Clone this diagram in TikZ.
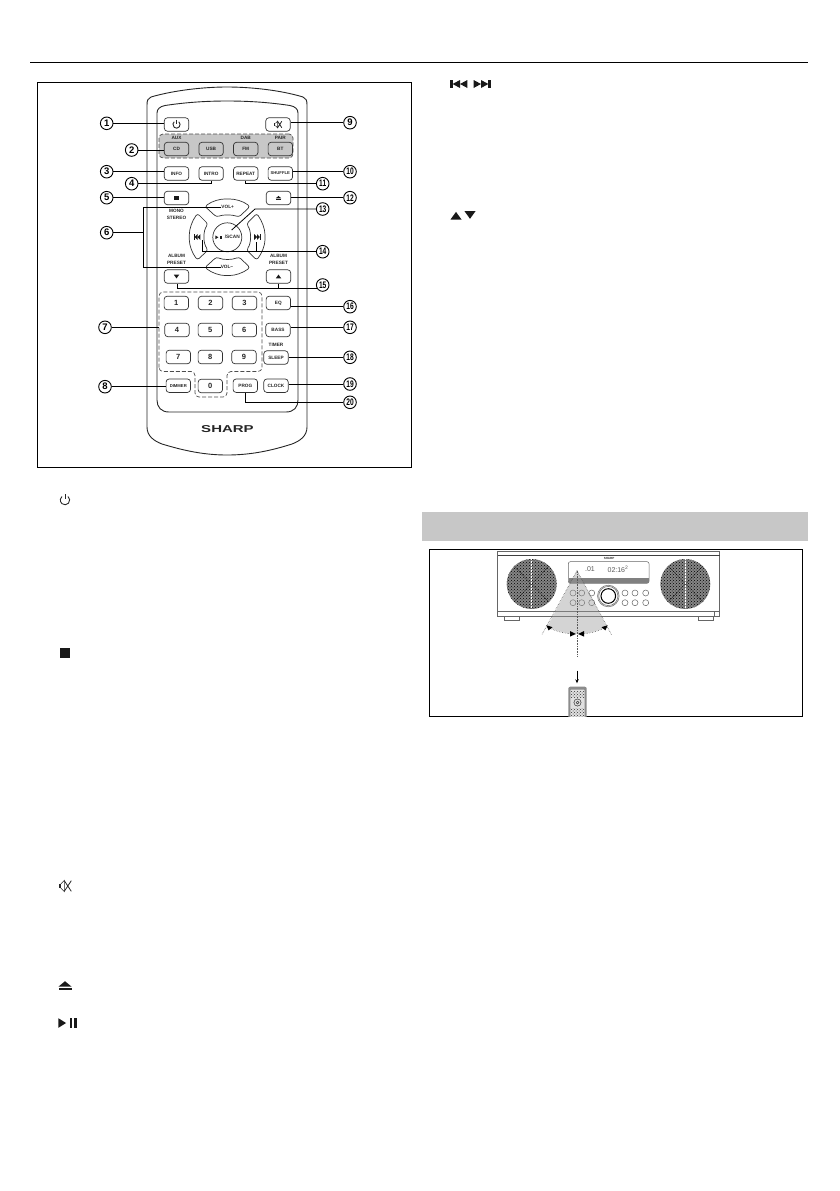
\documentclass[tikz,border=0pt]{standalone}
\usepackage{fontspec}
\setmainfont{Liberation Sans}
\usepackage{tikz}
\usetikzlibrary{positioning,arrows.meta,patterns}

\newcommand{\btnfont}{\fontsize{4.7}{5.5}\selectfont\bfseries}
\newcommand{\IconPower}[2]{\begin{scope}[shift={(#1)},x=1pt,y=1pt,scale=#2]
  \draw[line width=0.9pt,black!85] (0,4.6) -- (0,0.4);
  \draw[line width=0.9pt,black!85] (2.3,2.7) arc[start angle=50,end angle=-230,radius=3.6];
\end{scope}}
\newcommand{\IconMute}[2]{\begin{scope}[shift={(#1)},x=1pt,y=1pt,scale=#2]
  \fill[black!85] (-4.5,-1.5) rectangle (-3,1.5);
  \draw[line width=0.6pt,black!85] (-3,1.5) -- (-0.5,4) -- (-0.5,-4) -- (-3,-1.5);
  \draw[line width=0.8pt,black!85] (-0.5,3.8) -- (4.5,-3.8) (-0.5,-3.8) -- (4.5,3.8);
\end{scope}}
\newcommand{\IconStop}[2]{\begin{scope}[shift={(#1)},x=1pt,y=1pt,scale=#2]
  \fill[black!90] (-1,-1) rectangle (1,1);
\end{scope}}
\newcommand{\IconEject}[2]{\begin{scope}[shift={(#1)},x=1pt,y=1pt,scale=#2]
  \fill[black!90] (-6.5,-0.6) -- (6.5,-0.6) -- (0,4.8) -- cycle;
  \fill[black!90] (-6.5,-2.2) rectangle (6.5,-3.6);
\end{scope}}
\newcommand{\IconTri}[3]{\begin{scope}[shift={(#1)},x=1pt,y=1pt,scale=#2,yscale=#3]
  \fill[black!90] (-5.5,-3.8) -- (5.5,-3.8) -- (0,3.8) -- cycle;
\end{scope}}
\newcommand{\IconSkip}[3]{\begin{scope}[shift={(#1)},x=1pt,y=1pt,scale=#2,xscale=#3]
  \fill[black!90] (-4,-4) -- (0,0) -- (-4,4) -- cycle;
  \fill[black!90] (0,-4) -- (4,0) -- (0,4) -- cycle;
  \fill[black!90] (4,-4) rectangle (5.2,4);
\end{scope}}
\newcommand{\IconPlay}[2]{\begin{scope}[shift={(#1)},x=1pt,y=1pt,scale=#2]
  \fill[black!90] (-9,-5) -- (-1,0) -- (-9,5) -- cycle;
  \fill[black!90] (3,-5) rectangle (5.6,5);
  \fill[black!90] (7.4,-5) rectangle (10,5);
\end{scope}}

\begin{document}
\begin{tikzpicture}[
  x=1pt, y=-1pt,
  every node/.style={font=\btnfont, inner sep=0pt, text=black!85},
  btn/.style={draw=black!80, line width=0.7pt, rounded corners=3pt,
              minimum width=24.4pt, minimum height=13.4pt},
  numbtn/.style={btn, font=\fontsize{7.5}{8}\selectfont\bfseries},
  callout/.style={circle, draw=black, line width=0.9pt, minimum size=12.6pt,
                  font=\fontsize{9.5}{10}\selectfont\bfseries, text=black},
  lead/.style={line width=0.8pt, black},
  frame/.style={draw=black, line width=0.9pt},
  dashbox/.style={dash pattern=on 4pt off 2pt, draw=black!70, line width=0.7pt, rounded corners=4pt},
  pad/.style={draw=black!80, line width=0.7pt, rounded corners=2.5pt},
  beam/.style={densely dotted, black!65, line width=0.6pt},
  hifiline/.style={draw=black!60, line width=0.5pt}
]
  \path[use as bounding box] (0,0) rectangle (839,1191);

  % page furniture
  \draw[line width=1pt, black] (30,62) -- (808,62);
  \draw[frame] (37,82) rectangle (411,467);
  \fill[black!22] (422,512) rectangle (808,541);
  \draw[frame] (429,549) rectangle (802,716);

  % remote body
  \draw[line width=0.9pt, black!85] (147,427) -- (147,105)
    .. controls (147,100) and (148,98.5) .. (151,97)
    .. controls (175,90) and (205,87) .. (227,87)
    .. controls (250,87) and (280,90) .. (303,97)
    .. controls (306,98.5) and (307,100) .. (307,105)
    -- (307,427)
    .. controls (307,436) and (300,441) .. (292,444)
    .. controls (270,451) and (250,455) .. (227,455)
    .. controls (205,455) and (185,451) .. (162,444)
    .. controls (154,441) and (147,436) .. (147,427) -- cycle;
  \draw[line width=0.9pt, black!85] (157,400) -- (157,113)
    .. controls (157,109) and (160,106.5) .. (165,105.5)
    .. controls (185,102.5) and (205,101) .. (227,101)
    .. controls (250,101) and (270,102.5) .. (290,105.5)
    .. controls (295,106.5) and (298,109) .. (298,113)
    -- (298,400)
    .. controls (298,407) and (294,412) .. (286,412)
    -- (169,412)
    .. controls (161,412) and (157,407) .. (157,400) -- cycle;

  % dashed groups
  \node[dashbox, fill=black!22, minimum width=134pt, minimum height=24pt] (panel) at (226,146) {};
  \draw[dashbox] (159,371.5) -- (159,292) -- (262,292) -- (262,371.5) -- (227,371.5)
    -- (227,397) -- (195,397) -- (195,371.5) -- cycle;

  % top buttons
  \node[btn] (power) at (176.5,124.5) {};
  \node[btn] (mute) at (278,124.5) {};
  \IconPower{power}{1}
  \IconMute{mute}{0.85}

  \node[btn] (cd) at (176.5,149) {CD};
  \node[btn, right=9.5pt of cd] (usb) {USB};
  \node[btn, right=9.5pt of usb] (fm) {FM};
  \node[btn, right=9.5pt of fm] (bt) {BT};
  \node[above=1.8pt of cd] (aux) {AUX};
  \node[above=1.8pt of fm] (dab) {DAB};
  \node[above=1.8pt of bt] (pair) {PAIR};

  \node[btn] (info) at (176.5,173.5) {INFO};
  \node[btn, right=9.5pt of info] (intro) {INTRO};
  \node[btn, right=9.5pt of intro] (repeat) {REPEAT};
  \node[btn, right=9.5pt of repeat] (shuffle) {\fontsize{4.2}{5}\selectfont SHUFFLE};

  \node[btn] (stopbtn) at (176.5,198) {};
  \node[btn] (eject) at (278.5,198) {};
  \IconStop{stopbtn}{2.3}
  \IconEject{eject}{0.42}
  \node (mono) at (176.5,211) {MONO};
  \node (stereo) at (176.5,218) {STEREO};

  % direction pad
  \node[circle, draw=black!80, line width=0.7pt, minimum size=29pt] (playscan) at (227.3,237.3)
    {\hspace{10pt}\fontsize{4.8}{5}\selectfont /SCAN};
  \IconPlay{[xshift=-8.6pt]playscan.center}{0.36}
  \draw[pad] (205,206.5) .. controls (212,201) and (220,199) .. (227.3,199)
    .. controls (235,199) and (243,201) .. (250,206.5) -- (239,217)
    .. controls (232,214.5) and (223,214.5) .. (216.5,217) -- cycle;
  \draw[pad] (205,267.5) .. controls (212,273) and (220,275.5) .. (227.3,275.5)
    .. controls (235,275.5) and (243,273) .. (250,267.5) -- (239,257)
    .. controls (232,260) and (223,260) .. (216.5,257) -- cycle;
  \draw[pad] (197.5,213.5) .. controls (192,221) and (189.3,229) .. (189.3,237.3)
    .. controls (189.3,245) and (192,253) .. (197.5,260) -- (208,250)
    .. controls (203,243) and (203,231) .. (208,224) -- cycle;
  \draw[pad] (256.7,213.5) .. controls (262,221) and (265,229) .. (265,237.3)
    .. controls (265,245) and (262,253) .. (256.7,260) -- (246.5,250)
    .. controls (251.5,243) and (251.5,231) .. (246.5,224) -- cycle;
  \node (volup) at (227.7,207.3) {VOL+};
  \node (voldown) at (227,267.3) {VOL−};
  \coordinate (prevbtn) at (197.5,237);
  \coordinate (nextbtn) at (257,237);
  \IconSkip{prevbtn}{0.7}{-1}
  \IconSkip{nextbtn}{0.7}{1}

  % album / preset
  \node (albuml) at (176.5,256) {ALBUM};
  \node (presetl) at (176.5,263) {PRESET};
  \node (albumr) at (278.5,256) {ALBUM};
  \node (presetr) at (278.5,263) {PRESET};
  \node[btn] (downbtn) at (176.5,276.5) {};
  \node[btn] (upbtn) at (278.5,276.5) {};
  \IconTri{downbtn}{0.5}{-1}
  \IconTri{upbtn}{0.5}{1}

  % number keys
  \node[numbtn] (one) at (176.3,303) {1};
  \node[numbtn] (two) at (210.5,303) {2};
  \node[numbtn] (three) at (244.5,303) {3};
  \node[btn] (eq) at (278.3,303) {EQ};
  \node[numbtn] (four) at (177,330) {4};
  \node[numbtn] (five) at (210.3,330) {5};
  \node[numbtn] (six) at (244.3,330) {6};
  \node[btn] (bass) at (278,330) {BASS};
  \node[numbtn] (seven) at (178.3,357) {7};
  \node[numbtn] (eight) at (210.3,357) {8};
  \node[numbtn] (nine) at (244,357) {9};
  \node[btn] (sleep) at (276,357.5) {SLEEP};
  \node (timer) at (276,345) {TIMER};
  \node[btn] (dimmer) at (178.3,385.7) {\fontsize{4.2}{5}\selectfont DIMMER};
  \node[numbtn] (zero) at (210.3,386) {0};
  \node[btn] (prog) at (245.3,385.7) {PROG};
  \node[btn] (clock) at (276,385.7) {CLOCK};

  \node[font=\fontsize{10}{11}\selectfont\bfseries] (brand) at (227.5,429.3) {\scalebox{1.5}[1]{SHARP}};

  % callouts
  \node[callout] (c1) at (106.7,123.3) {1};
  \node[callout] (c2) at (131.7,150) {2};
  \node[callout] (c3) at (106.7,171.7) {3};
  \node[callout] (c4) at (131.7,183.7) {4};
  \node[callout] (c5) at (106.7,197.7) {5};
  \node[callout] (c6) at (106.7,232.7) {6};
  \node[callout] (c7) at (105,327.3) {7};
  \node[callout] (c8) at (105,386.7) {8};
  \node[callout] (c9) at (350,122.7) {9};
  \node[callout] (c10) at (350,171.7) {\scalebox{0.7}[1]{10}};
  \node[callout] (c11) at (322.7,183.7) {\scalebox{0.7}[1]{11}};
  \node[callout] (c12) at (350,197.7) {\scalebox{0.7}[1]{12}};
  \node[callout] (c13) at (322.7,209) {\scalebox{0.7}[1]{13}};
  \node[callout] (c14) at (322.7,251.7) {\scalebox{0.7}[1]{14}};
  \node[callout] (c15) at (322.7,285) {\scalebox{0.7}[1]{15}};
  \node[callout] (c16) at (350,306.7) {\scalebox{0.7}[1]{16}};
  \node[callout] (c17) at (350,327.3) {\scalebox{0.7}[1]{17}};
  \node[callout] (c18) at (350,357.3) {\scalebox{0.7}[1]{18}};
  \node[callout] (c19) at (350,384) {\scalebox{0.7}[1]{19}};
  \node[callout] (c20) at (350,402.3) {\scalebox{0.7}[1]{20}};

  % connectors
  \draw[lead] (c1) -- (c1 -| power.west);
  \draw[lead] (c2) -- (c2 -| cd.west);
  \draw[lead] (c3) -- (c3 -| info.west);
  \draw[lead] (c4.east) -| (intro.south);
  \draw[lead] (c5) -- (c5 -| stopbtn.west);
  \coordinate (c6bend) at (143.3,232.7);
  \draw[lead] (c6) -- (c6bend);
  \draw[lead] (volup.west) -- ++(-3,0) -| (c6bend) |- (voldown.west);
  \coordinate (keypad) at (159,327.3);
  \draw[lead] (c7) -- (keypad);
  \draw[lead] (c8) -- (c8 -| dimmer.west);
  \draw[lead] (c9) -- (c9 -| mute.east);
  \draw[lead] (c10) -- (c10 -| shuffle.east);
  \draw[lead] (c11.west) -| (repeat.south);
  \draw[lead] (c12) -- (c12 -| eject.east);
  \coordinate (c13bend) at (255,209);
  \coordinate (c13end) at (231.7,230);
  \draw[lead] (c13.west) -- (c13bend) -- (c13end);
  \coordinate (prevend) at (202.7,240);
  \coordinate (nextend) at (256.7,241.5);
  \draw[lead] (c14.west) -| (prevend);
  \draw[lead] (c14.west) -| (nextend);
  \coordinate (c15join) at (177.3,288.3);
  \draw[lead] (c15join -| c15.south west) -- (c15join) -- (downbtn.south -| c15join);
  \draw[lead] (upbtn.south) -- (upbtn.south |- c15join);
  \draw[lead] (c16) -- (c16 -| eq.east);
  \draw[lead] (c17) -- (c17 -| bass.east);
  \draw[lead] (c18) -- (c18 -| sleep.east);
  \draw[lead] (c19) -- (c19 -| clock.east);
  \draw[lead] (c20.west) -| (prog.south);

  % hifi unit
  \draw[hifiline] (497.7,551.7) rectangle (719.7,616);
  \draw[draw=black!75, line width=0.6pt] (497.7,555) -- (719.7,555);
  \draw[hifiline] (497.7,611) -- (719.7,611);
  \draw[hifiline] (714.5,611) -- (714.5,616);
  \draw[hifiline] (504.3,616) -- (504.3,620.7) -- (519.7,620.7) -- (519.7,616);
  \draw[hifiline] (698.3,616) -- (698.3,620.7) -- (713,620.7) -- (713,616);
  \node[font=\fontsize{3}{3}\selectfont\bfseries] (minibrand) at (609,558) {SHARP};

  \fill[black!48] (531.7,584) circle[radius=25];
  \fill[pattern=crosshatch dots, pattern color=black] (531.7,584) circle[radius=25];
  \fill[black!48] (685.3,584) circle[radius=25];
  \fill[pattern=crosshatch dots, pattern color=black] (685.3,584) circle[radius=25];
  \draw[densely dotted, black, line width=0.5pt] (514,566) -- (549,602) (514,602) -- (549,566);
  \draw[densely dotted, black, line width=0.5pt] (668,566) -- (703,602) (668,602) -- (703,566);
  \draw[densely dotted, white, line width=0.5pt] (531.7,559) -- (531.7,609) (685.3,559) -- (685.3,609);

  \draw[hifiline, rounded corners=2pt, fill=white] (568.3,561.7) rectangle (649,583.3);
  \fill[black!50] (568.6,578) rectangle (648.7,583);
  \node[font=\fontsize{7}{8}\selectfont, text=black!65] (track) at (590,569.3) {.01};
  \node[font=\fontsize{7}{8}\selectfont, text=black!65] (clocktime) at (618,569.3) {02:16\textsuperscript{2}};

  \draw[hifiline] (608.3,596) circle[radius=10.8] circle[radius=9.6];
  \draw[black, line width=1pt] (608.3,596) circle[radius=7.3];
  \draw[hifiline] (573,593) circle[radius=3] (581.7,593) circle[radius=3] (591.7,593) circle[radius=3];
  \draw[hifiline] (573,602.7) circle[radius=3] (581.7,602.7) circle[radius=3] (591.7,602.7) circle[radius=3];
  \draw[hifiline] (625,593) circle[radius=3] (635,593) circle[radius=3] (645.7,593) circle[radius=3];
  \draw[hifiline] (625,602.7) circle[radius=3] (635,602.7) circle[radius=3] (645.7,602.7) circle[radius=3];

  % remote sensor cone
  \coordinate (apex) at (577,570.7);
  \coordinate (coneleft) at (547.3,626.7);
  \coordinate (coneright) at (606.7,626.7);
  \coordinate (conemid) at (577,634);
  \fill[black!40, opacity=0.42] (apex) -- (coneleft) .. controls (557,631) and (567,634) .. (conemid)
    .. controls (587,634) and (597,631) .. (coneright) -- cycle;
  \draw[beam] (apex) -- (541.7,635);
  \draw[beam] (apex) -- (611.7,635);
  \draw[beam] (apex) -- (577,656.7);
  \draw[beam] (coneleft) .. controls (555,631) and (563,633.5) .. (574.5,634);
  \draw[beam] (579.5,634) .. controls (591,633.5) and (599,631) .. (coneright);
  \fill[black] (546.3,625.2) -- (552.5,627.2) -- (548.6,630.4) -- cycle;
  \fill[black] (607.7,625.2) -- (601.5,627.2) -- (605.4,630.4) -- cycle;
  \fill[black] (575.8,634) -- (570,631) -- (570,636.6) -- cycle;
  \fill[black] (578.2,634) -- (584,631) -- (584,636.6) -- cycle;
  \draw[line width=0.7pt, black, -{Stealth[length=4pt,width=3.4pt]}] (577,670.7) -- (577,683.3);

  % small remote
  \begin{scope}
    \clip (429,549) rectangle (802,716);
    \fill[black!45, rounded corners=2pt] (568.3,686.7) rectangle (586.7,725);
    \fill[black!12, rounded corners=1pt] (570.3,689.5) rectangle (584.7,725);
    \fill[pattern=crosshatch dots, pattern color=black!80] (570.3,691) rectangle (584.7,697);
    \fill[pattern=crosshatch dots, pattern color=black!80] (570.3,708) rectangle (584.7,725);
    \draw[black!80, line width=0.5pt] (577.5,702.5) circle[radius=3.6] circle[radius=1.4];
  \end{scope}

  % icons in the text column
  \IconPower{65,500}{1.3}
  \IconStop{65,653}{4.7}
  \IconMute{65,886}{1.4}
  \IconEject{65,986}{1}
  \IconPlay{67,1023}{0.95}
  \IconSkip{460,84}{1}{-1.85}
  \IconSkip{481,84}{1}{1.85}
  \IconTri{456,215.7}{1}{1}
  \IconTri{470,215}{1}{-1}
\end{tikzpicture}
\end{document}
